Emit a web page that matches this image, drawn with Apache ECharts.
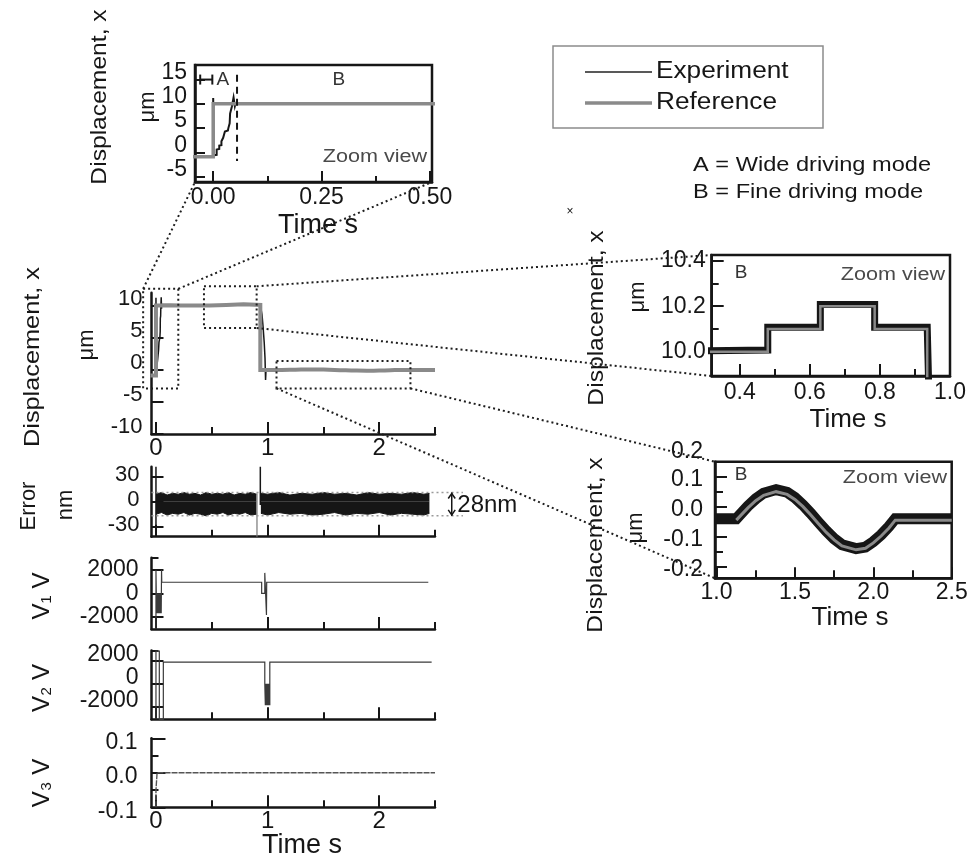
<!DOCTYPE html>
<html>
<head>
<meta charset="utf-8">
<script src="https://cdn.jsdelivr.net/npm/echarts@6/dist/echarts.min.js"></script>
<style>
  html, body { margin: 0; padding: 0; background: #ffffff; }
  #chart { width: 976px; height: 860px; }
</style>
</head>
<body>
<div id="chart"></div>
<script>
// ---- Reference trajectory: time (s) and displacement (μm) ----
const refTime = [-0.05, 0, 0, 0.48, 0.48, 0.63, 0.63, 0.785, 0.785, 0.935, 0.935, 1.126,
  1.2, 1.25, 1.3, 1.38, 1.45, 1.5, 1.55, 1.6, 1.65, 1.7, 1.75, 1.8, 1.89, 1.95, 2.0, 2.05, 2.1, 2.14, 2.5];
const refDisp = [-0.9, -0.9, 10.0, 10.0, 10.1, 10.1, 10.2, 10.2, 10.1, 10.1, -0.045, -0.045,
  -0.004, 0.020, 0.038, 0.050, 0.041, 0.024, 0.001, -0.027, -0.057, -0.086, -0.111, -0.131, -0.144, -0.139, -0.121, -0.098, -0.071, -0.045, -0.045];

// ---- Measured displacement: time (s) and displacement (μm) ----
const expTime = [-0.05, 0, 0, 0.001, 0.008, 0.008, 0.014, 0.014, 0.019, 0.019, 0.023, 0.023, 0.026, 0.027,
  0.034, 0.035, 0.038, 0.039, 0.042, 0.043, 0.046, 0.047, 0.05, 0.052, 0.055, 0.06,
  0.48, 0.48, 0.63, 0.63, 0.785, 0.785, 0.935, 0.94, 0.95, 0.96, 0.97, 0.977, 0.982, 0.986, 1.126,
  1.2, 1.25, 1.3, 1.38, 1.45, 1.5, 1.55, 1.6, 1.65, 1.7, 1.75, 1.8, 1.89, 1.95, 2.0, 2.05, 2.1, 2.14, 2.5];
const expDisp = [-0.9, -0.9, 11.2, -0.6, -0.5, 0.6, 0.7, 1.4, 1.5, 2.3, 2.5, 3.0, 3.1, 4.3,
  4.5, 5.0, 6.0, 8.0, 8.4, 9.4, 9.6, 11.3, 9.5, 10.2, 9.9, 10.0,
  10.007, 10.107, 10.107, 10.207, 10.207, 10.107, 10.107, 9.8, 8.6, 6.6, 4.2, 1.8, -1.6, -0.04, -0.04,
  0.002, 0.026, 0.045, 0.057, 0.048, 0.030, 0.006, -0.022, -0.052, -0.081, -0.107, -0.127, -0.140, -0.135, -0.117, -0.094, -0.066, -0.040, -0.040];

// ---- Tracking error envelope (nm) ----
const errTime = [0, 0.05, 0.1, 0.15, 0.2, 0.25, 0.3, 0.35, 0.4, 0.45, 0.5, 0.55, 0.6, 0.65, 0.7, 0.75, 0.8, 0.85, 0.9,
  0.92, 0.94, 1.0, 1.1, 1.2, 1.3, 1.4, 1.5, 1.6, 1.7, 1.8, 1.9, 2.0, 2.1, 2.2, 2.3, 2.4, 2.45];
const errUpper = [9, 11, 8, 10, 9, 11, 9, 10, 8, 11, 9, 10, 9, 11, 8, 10, 9, 11, 9,
  null, 10, 9, 11, 8, 10, 9, 11, 9, 10, 8, 11, 9, 10, 9, 11, 9, 10];
const errLower = [-15, -13, -16, -14, -15, -13, -16, -14, -15, -17, -14, -15, -13, -16, -14, -15, -13, -16, -15,
  null, -14, -16, -13, -15, -14, -16, -15, -13, -16, -14, -15, -13, -16, -14, -15, -16, -14];
const errSpikeTime = [0, 0, null, 0.935, 0.935];
const errSpikeVal = [-42, 42, null, 42, -4];
const errDropTime = [0.905, 0.905];
const errDropVal = [10, -42];
const errBandTop = 11;      // nm
const errBandBottom = -17;  // nm  (28 nm span)

// ---- Actuator voltages (V) ----
const v1Time = [0, 0, 0.003, 0.003, 0.007, 0.007, 0.011, 0.011, 0.015, 0.015, 0.019, 0.019, 0.023, 0.023,
  0.027, 0.027, 0.031, 0.031, 0.035, 0.035, 0.039, 0.039, 0.043, 0.043, 0.047, 0.047, 0.05, 0.05, 0.052,
  0.947, 0.947, 0.975, 0.975, 0.99, 0.99, 0.992, 2.44];
const v1Volt = [-3050, 2000, 0, -1700, 0, -1700, 0, -1700, 0, -1700, 0, -1700, 0, -1700,
  0, -1700, 0, -1700, 0, -1700, 0, -1700, 0, -1700, 0, -1700, -1700, 2000, 950,
  950, 0, 0, 1750, 1750, -1850, 950, 950];
const v2Time = [0, 0, 0.03, 0.03, 0.066, 0.066, 0.975, 0.975, 0.98, 0.985, 0.99, 0.995, 1.0, 1.005, 1.01, 1.015, 1.02, 1.02, 2.47];
const v2Volt = [-3050, 2800, 2800, -3050, -3050, 1850, 1850, 0, -1850, 0, -1850, 0, -1850, 0, -1850, 0, -1850, 1850, 1850];
const v3Time = [0, 0, 0.01, 2.5];
const v3Volt = [-0.1, -0.05, 0, 0];

// ---- Tick values and labels ----
const mainTimeLabels = [0, 1, 2];
const mainTimeMinor = [0.5, 1.5, 2.5];
const dispTicks = [-10, -5, 0, 5, 10];
const errTicks = [-30, 0, 30];
const voltTicks = [-2000, 0, 2000];
const v3Ticks = [-0.1, 0, 0.1];
const v3Minor = [-0.05, 0.05];
const zoomATimeTicks = [0, 0.25, 0.5];
const zoomATimeMinor = [0.125, 0.375];
const zoomADispTicks = [-5, 0, 5, 10, 15];
const zoomBTimeTicks = [0.4, 0.6, 0.8, 1.0];
const zoomBTimeMinor = [0.5, 0.7, 0.9];
const zoomBDispTicks = [10.0, 10.2, 10.4];
const zoomBDispMinor = [10.1, 10.3];
const zoomCTimeTicks = [1.0, 1.5, 2.0, 2.5];
const zoomCTimeMinor = [1.25, 1.75, 2.25];
const zoomCDispTicks = [-0.2, -0.1, 0.0, 0.1];
const zoomCDispMinor = [-0.15, -0.05, 0.05];

const INK = '#161616';
const GRAY = '#8a8a8a';
const FONT = '"Liberation Sans", Arial, Helvetica, sans-serif';

const chart = echarts.init(document.getElementById('chart'), null, { renderer: 'canvas' });

const boxGrid = { show: true, borderColor: INK, borderWidth: 2.5, backgroundColor: 'transparent' };
const grids = [
  { left: 151.5, top: 292.7, width: 283.5, height: 141.3 },            // 0 displacement
  { left: 151.5, top: 466.7, width: 283.5, height: 70 },               // 1 error
  { left: 151.5, top: 557.7, width: 283.5, height: 71.3 },             // 2 V1
  { left: 151.5, top: 650.5, width: 283.5, height: 68.8 },             // 3 V2
  { left: 151.5, top: 738.3, width: 283.5, height: 69 },               // 4 V3
  Object.assign({ left: 195, top: 65, width: 237, height: 117 }, boxGrid),        // 5 zoom A
  Object.assign({ left: 711.7, top: 255, width: 238.3, height: 121 }, boxGrid),   // 6 zoom B steps
  Object.assign({ left: 715, top: 461.7, width: 236.7, height: 116.6 }, boxGrid)  // 7 zoom B sine
];

const xAxes = [];
const yAxes = [];

// One axis carries the line, labels and long ticks; an overlaid twin carries short ticks.
// `shift` moves y labels off their ticks (negative = upward), in px.
function addAxis(dim, grid, c) {
  const list = dim === 'x' ? xAxes : yAxes;
  const idx = list.length;
  const base = {
    type: 'value', gridIndex: grid, min: c.min, max: c.max,
    position: dim === 'x' ? 'bottom' : 'left',
    splitLine: { show: false }
  };
  let label = { show: false };
  if (c.labels) {
    label = {
      show: true, customValues: c.labels, showMinLabel: true, showMaxLabel: true,
      formatter: c.fmt || (v => String(v)), fontSize: c.fs || 23, fontFamily: FONT, color: INK,
      margin: c.margin == null ? 6 : c.margin
    };
    if (c.shift) {
      label.verticalAlign = c.shift < 0 ? 'bottom' : 'top';
      label.lineHeight = Math.abs(c.shift) * 2;
    }
  }
  list.push(Object.assign({}, base, {
    axisLine: { show: true, onZero: false, lineStyle: { color: INK, width: 2.5 } },
    axisTick: { show: true, inside: true, length: c.majorLen || 12, customValues: c.majors,
      lineStyle: { color: INK, width: 2 } },
    axisLabel: label
  }));
  if (c.minors) {
    list.push(Object.assign({}, base, {
      axisLine: { show: false, onZero: false },
      axisTick: { show: true, inside: true, length: c.minorLen || 7, customValues: c.minors,
        lineStyle: { color: INK, width: 2 } },
      axisLabel: { show: false }
    }));
  }
  return idx;
}

const fmt1 = v => v.toFixed(1);
const fmt2 = v => v.toFixed(2);
const timeBase = { min: -0.04, max: 2.5, majors: mainTimeLabels, minors: mainTimeMinor };

const panels = [];
// 0 displacement
panels.push({
  xi: addAxis('x', 0, Object.assign({}, timeBase, { labels: mainTimeLabels, fs: 24, margin: 2 })),
  yi: addAxis('y', 0, { min: -10, max: 12, majors: dispTicks, labels: dispTicks, fs: 22, margin: 9, shift: -7 })
});
// 1 error
panels.push({
  xi: addAxis('x', 1, timeBase),
  yi: addAxis('y', 1, { min: -42, max: 42, majors: errTicks, labels: errTicks, fs: 22, margin: 12, shift: -2 })
});
// 2 V1
panels.push({
  xi: addAxis('x', 2, timeBase),
  yi: addAxis('y', 2, { min: -3050, max: 3050, majors: voltTicks, labels: voltTicks, minors: [3050], fs: 23, margin: 13 })
});
// 3 V2
panels.push({
  xi: addAxis('x', 3, timeBase),
  yi: addAxis('y', 3, { min: -3050, max: 2850, majors: voltTicks, labels: voltTicks, minors: [2850], fs: 23, margin: 13, shift: -6 })
});
// 4 V3
panels.push({
  xi: addAxis('x', 4, Object.assign({}, timeBase, { labels: mainTimeLabels, fs: 24, margin: 2 })),
  yi: addAxis('y', 4, { min: -0.1, max: 0.1, majors: v3Ticks, labels: v3Ticks, minors: v3Minor, fmt: fmt1, fs: 23, margin: 14, majorLen: 14, shift: 4 })
});
// 5 zoom view A
const zA = { xmin: -0.042, xmax: 0.505, ymin: -6.1, ymax: 18 };
panels.push({
  xi: addAxis('x', 5, { min: zA.xmin, max: zA.xmax, majors: zoomATimeTicks, labels: zoomATimeTicks, minors: zoomATimeMinor, fmt: fmt2, fs: 23, margin: 4, majorLen: 11, minorLen: 6 }),
  yi: addAxis('y', 5, { min: zA.ymin, max: zA.ymax, majors: zoomADispTicks, labels: zoomADispTicks, fs: 23, margin: 8, majorLen: 10, shift: -7 })
});
// 6 zoom view B (steps)
const zB = { xmin: 0.32, xmax: 1.0, ymin: 9.893, ymax: 10.425 };
panels.push({
  xi: addAxis('x', 6, { min: zB.xmin, max: zB.xmax, majors: zoomBTimeTicks, labels: zoomBTimeTicks, minors: zoomBTimeMinor, fmt: fmt1, fs: 23, margin: 5, majorLen: 12, minorLen: 7 }),
  yi: addAxis('y', 6, { min: zB.ymin, max: zB.ymax, majors: zoomBDispTicks, labels: zoomBDispTicks, minors: zoomBDispMinor, fmt: fmt1, fs: 23, margin: 6, majorLen: 12, minorLen: 7 })
});
// 7 zoom view B (sine)
const zC = { xmin: 0.99, xmax: 2.5, ymin: -0.239, ymax: 0.15 };
panels.push({
  xi: addAxis('x', 7, { min: zC.xmin, max: zC.xmax, majors: zoomCTimeTicks, labels: zoomCTimeTicks, minors: zoomCTimeMinor, fmt: fmt1, fs: 23, margin: 3, majorLen: 11, minorLen: 8 }),
  yi: addAxis('y', 7, { min: zC.ymin, max: zC.ymax, majors: zoomCDispTicks, labels: zoomCDispTicks, minors: zoomCDispMinor, fmt: fmt1, fs: 23, margin: 12, majorLen: 12, minorLen: 8, shift: 3 })
});

// pair up time and value arrays; `from` keeps only samples inside a zoom window
function pairs(xs, ys, from) {
  const out = [];
  xs.forEach((x, i) => {
    if (from != null && x != null && x < from) return;
    out.push((x == null || ys[i] == null) ? [x, null] : [x, ys[i]]);
  });
  return out;
}
function line(p, xs, ys, color, width, z, extra, from) {
  return Object.assign({
    type: 'line', xAxisIndex: panels[p].xi, yAxisIndex: panels[p].yi,
    data: pairs(xs, ys, from), showSymbol: false, symbol: 'none', clip: true, connectNulls: false,
    animation: false, silent: true, z: z,
    lineStyle: { color: color, width: width, cap: 'butt', join: 'miter' }
  }, extra || {});
}

const series = [
  // displacement overview
  line(0, expTime, expDisp, INK, 1.5, 2),
  line(0, refTime, refDisp, GRAY, 4, 3),
  // tracking error band
  line(1, errTime, errUpper, INK, 1, 2, { areaStyle: { color: INK, opacity: 1 } }),
  line(1, errTime, errLower, INK, 1, 2, { areaStyle: { color: INK, opacity: 1 } }),
  line(1, errSpikeTime, errSpikeVal, INK, 1.5, 3),
  line(1, errDropTime, errDropVal, '#777777', 1.2, 3),
  // voltages
  line(2, v1Time, v1Volt, '#3a3a3a', 1.2, 2),
  line(3, v2Time, v2Volt, '#3a3a3a', 1.2, 2),
  line(4, v3Time, v3Volt, '#555555', 1.4, 2, { lineStyle: { color: '#555555', width: 1.4, type: [6, 1] } }),
  // zoom view A
  line(5, expTime, expDisp, INK, 2, 2),
  line(5, refTime, refDisp, GRAY, 3.5, 3),
  // zoom view B (steps)
  line(6, expTime, expDisp, INK, 7, 2),
  line(6, refTime, refDisp, GRAY, 2.5, 3),
  // zoom view B (sine)
  line(7, expTime, expDisp, INK, 11, 2, null, 0.985),
  line(7, refTime, refDisp, GRAY, 3, 3, null, 0.985)
];

chart.setOption({
  backgroundColor: '#ffffff',
  animation: false,
  grid: grids,
  xAxis: xAxes,
  yAxis: yAxes,
  series: series
});

// ---- annotations positioned through the axes ----
const P = (p, x, y) => chart.convertToPixel({ xAxisIndex: panels[p].xi, yAxisIndex: panels[p].yi }, [x, y]);
const DOT = { stroke: '#1e1e1e', lineWidth: 2, lineDash: [2, 3], fill: null };

function seg(a, b, style) {
  return { type: 'line', silent: true, z: 100,
    shape: { x1: a[0], y1: a[1], x2: b[0], y2: b[1] },
    style: Object.assign({}, DOT, style || {}) };
}
function box(a, b) {
  return { type: 'rect', silent: true, z: 100,
    shape: { x: Math.min(a[0], b[0]), y: Math.min(a[1], b[1]), width: Math.abs(b[0] - a[0]), height: Math.abs(b[1] - a[1]) },
    style: Object.assign({}, DOT) };
}
function txt(text, x, y, o) {
  o = o || {};
  return { type: 'text', silent: true, z: 90, x: x, y: y,
    rotation: o.rot ? Math.PI / 2 : 0, scaleX: o.sx || 1, scaleY: 1,
    style: { text: text, fill: o.color || INK, fontSize: o.fs || 22, fontFamily: FONT,
      textAlign: o.align || 'center', textVerticalAlign: 'middle', align: o.align || 'center', verticalAlign: 'middle' } };
}
function solid(a, b, w, color) {
  return seg(a, b, { lineDash: null, lineWidth: w || 2, stroke: color || INK });
}

const g = [];

// zoom windows on the overview
const r1a = P(0, -0.115, 12.6), r1b = P(0, 0.2, -2.9);
const r2a = P(0, 0.43, 13.0), r2b = P(0, 0.902, 6.5);
const r3a = P(0, 1.08, 1.35), r3b = P(0, 2.28, -2.9);
g.push(box(r1a, r1b), box(r2a, r2b), box(r3a, r3b));

// connectors to the zoom views
g.push(seg([r1a[0], r1a[1]], P(5, zA.xmin, zA.ymin)));
g.push(seg([r1b[0], r1a[1]], P(5, zA.xmax, zA.ymin)));
g.push(seg([r2b[0], r2a[1]], P(6, zB.xmin, zB.ymax)));
g.push(seg([r2b[0], r2b[1]], P(6, zB.xmin, zB.ymin)));
g.push(seg([r3b[0], r3b[1]], P(7, zC.xmin, zC.ymax)));
g.push(seg([r3a[0], r3b[1]], P(7, zC.xmin, zC.ymin)));

// error band limits and 28 nm marker
const eL1 = P(1, -0.04, errBandTop), eR1 = P(1, 2.75, errBandTop);
const eL2 = P(1, -0.04, errBandBottom), eR2 = P(1, 2.75, errBandBottom);
g.push(seg(eL1, eR1, { stroke: '#9a9a9a', lineWidth: 1.5 }), seg(eL2, eR2, { stroke: '#9a9a9a', lineWidth: 1.5 }));
const aT = P(1, 2.65, errBandTop), aB = P(1, 2.65, errBandBottom);
g.push(solid(aT, aB, 1.5));
g.push({ type: 'polyline', silent: true, z: 100, shape: { points: [[aT[0] - 3.5, aT[1] + 6], [aT[0], aT[1] + 1], [aT[0] + 3.5, aT[1] + 6]] }, style: { stroke: INK, lineWidth: 1.5, fill: null } });
g.push({ type: 'polyline', silent: true, z: 100, shape: { points: [[aB[0] - 3.5, aB[1] - 6], [aB[0], aB[1] - 1], [aB[0] + 3.5, aB[1] - 6]] }, style: { stroke: INK, lineWidth: 1.5, fill: null } });
const nmPos = P(1, 2.7, (errBandTop + errBandBottom) / 2);
g.push(txt('28nm', nmPos[0], nmPos[1] + 1, { fs: 24, align: 'left' }));

// mode A / B markers in zoom view A
const bA1 = P(5, -0.03, 15), bA2 = P(5, -0.002, 15);
g.push(solid(bA1, bA2, 2), solid([bA1[0], bA1[1] - 5], [bA1[0], bA1[1] + 5], 2), solid([bA2[0], bA2[1] - 5], [bA2[0], bA2[1] + 5], 2));
g.push(seg(P(5, 0.055, 16), P(5, 0.055, -1.8), { lineDash: [7, 5], lineWidth: 2, stroke: INK }));
const labA = P(5, 0.022, 15), labB = P(5, 0.29, 15);
g.push(txt('A', labA[0], labA[1], { fs: 19, color: '#333' }), txt('B', labB[0], labB[1], { fs: 19, color: '#333' }));

// extra tick label above the sine zoom view
const l02 = P(7, zC.xmin, 0.2);
g.push(txt('0.2', l02[0] - 12, l02[1] + 5, { fs: 23, align: 'right' }));

// axis titles
g.push(txt('Displacement, x', 100, 97, { rot: true, fs: 22, sx: 1.12 }));
g.push(txt('μm', 148, 107, { rot: true, fs: 22 }));
g.push(txt('Time s', 318, 226, { fs: 27 }));
g.push(txt('Displacement, x', 33, 357, { rot: true, fs: 22, sx: 1.15 }));
g.push(txt('μm', 87, 345, { rot: true, fs: 22 }));
g.push(txt('Error', 29, 506, { rot: true, fs: 22 }));
g.push(txt('nm', 66, 505, { rot: true, fs: 22 }));
g.push(txt('V₁ V', 42, 596, { rot: true, fs: 24 }));
g.push(txt('V₂ V', 42, 688, { rot: true, fs: 24 }));
g.push(txt('V₃ V', 42, 783, { rot: true, fs: 24 }));
g.push(txt('Time s', 302, 846, { fs: 27 }));
g.push(txt('Displacement, x', 597, 318, { rot: true, fs: 22, sx: 1.12 }));
g.push(txt('μm', 638, 297, { rot: true, fs: 22 }));
g.push(txt('Time s', 848, 420, { fs: 26 }));
g.push(txt('Displacement, x', 596, 545, { rot: true, fs: 22, sx: 1.12 }));
g.push(txt('μm', 636, 528, { rot: true, fs: 22 }));
g.push(txt('Time s', 850, 618, { fs: 26 }));

// zoom view captions
g.push(txt('Zoom view', 375, 157, { fs: 18, sx: 1.2, color: '#4a4a4a' }));
g.push(txt('Zoom view', 893, 275, { fs: 18, sx: 1.2, color: '#4a4a4a' }));
g.push(txt('Zoom view', 895, 478, { fs: 18, sx: 1.2, color: '#4a4a4a' }));
g.push(txt('B', 741, 273, { fs: 19, color: '#333' }));
g.push(txt('B', 741, 475, { fs: 19, color: '#333' }));

// legend
g.push({ type: 'rect', silent: true, z: 90, shape: { x: 553, y: 46, width: 270, height: 82 }, style: { fill: '#ffffff', stroke: '#8c8c8c', lineWidth: 1.5 } });
g.push(solid([585, 72], [652, 72], 1.6, '#222222'));
g.push(solid([585, 103], [652, 103], 3.5, GRAY));
g.push(txt('Experiment', 656, 72, { fs: 23, sx: 1.14, align: 'left' }));
g.push(txt('Reference', 656, 103, { fs: 23, sx: 1.14, align: 'left' }));
g.push(txt('A = Wide driving mode', 693, 165, { fs: 20, sx: 1.18, align: 'left' }));
g.push(txt('B = Fine driving mode', 693, 192, { fs: 20, sx: 1.18, align: 'left' }));
g.push(txt('×', 570, 212, { fs: 12 }));

chart.setOption({ graphic: g });
</script>
</body>
</html>
